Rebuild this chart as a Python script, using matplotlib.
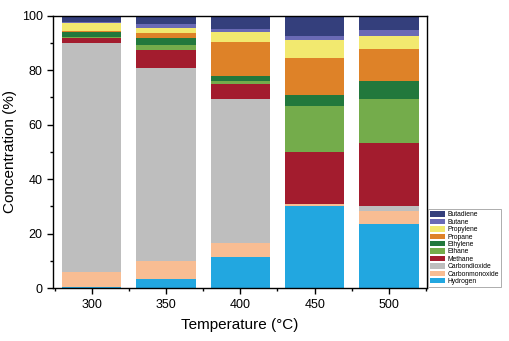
import numpy as np
import matplotlib
matplotlib.use("Agg")
import matplotlib.pyplot as plt
from matplotlib.ticker import MultipleLocator

plt.rcParams['font.family'] = ['Liberation Sans', 'DejaVu Sans']

# data (% of total gas)
temps = [300, 350, 400, 450, 500]
species = ['Hydrogen', 'Carbonmonoxide', 'Carbondioxide', 'Methane', 'Ethane',
           'Ethylene', 'Propane', 'Propylene', 'Butane', 'Butadiene']
hydrogen = [0.3, 3.5, 11.6, 30.0, 23.4]
carbonmonoxide = [5.7, 6.3, 4.9, 1.0, 4.9]
carbondioxide = [84.0, 71.1, 53.1, 0.0, 1.8]
methane = [1.8, 6.5, 5.2, 18.8, 23.0]
ethane = [0.5, 1.8, 1.2, 17.1, 16.5]
ethylene = [1.6, 2.5, 1.8, 3.9, 6.4]
propane = [0.3, 2.1, 12.6, 13.8, 11.6]
propylene = [3.1, 1.8, 3.5, 6.5, 4.9]
butane = [0.5, 1.2, 1.2, 1.5, 2.2]
butadiene = [2.2, 3.2, 4.9, 7.4, 5.3]
colors = ['#22a7e0', '#f8bd93', '#bebebe', '#a31c2e', '#74ac4b',
          '#22783c', '#de8228', '#f2e96f', '#6a6ab5', '#343f7c']

series = [hydrogen, carbonmonoxide, carbondioxide, methane, ethane,
          ethylene, propane, propylene, butane, butadiene]

fig = plt.figure(figsize=(5.1, 3.41), dpi=100)
ax = fig.add_axes([0.104, 0.155, 0.733, 0.799])

bottom = np.zeros(len(temps))
for name, vals, c in zip(species, series, colors):
    ax.bar(temps, vals, width=40, bottom=bottom, color=c, label=name,
           edgecolor='none')
    bottom += np.array(vals)

ax.set_xlim(274, 525.5)
ax.set_ylim(0, 100)
ax.set_xticks(temps)
ax.xaxis.set_minor_locator(MultipleLocator(25))
ax.yaxis.set_major_locator(MultipleLocator(20))
ax.yaxis.set_minor_locator(MultipleLocator(10))
ax.tick_params(which='major', length=4, width=1, labelsize=9, color='black')
ax.tick_params(which='minor', length=2.5, width=1)
for s in ax.spines.values():
    s.set_linewidth(1)

ax.set_xlabel('Temperature (\u00b0C)', fontsize=11, labelpad=5)
ax.set_ylabel('Concentration (%)', fontsize=11, labelpad=3)

h, l = ax.get_legend_handles_labels()
leg = fig.legend(h[::-1], l[::-1], loc='lower left',
                 bbox_to_anchor=(0.84, 0.158), fontsize=4.9,
                 frameon=True, fancybox=False, edgecolor='#888888',
                 handlelength=2.2, handleheight=0.85, labelspacing=0.05,
                 handletextpad=0.3, borderpad=0.3, borderaxespad=0)
leg.get_frame().set_linewidth(0.6)

fig.savefig('out.png', dpi=100)
